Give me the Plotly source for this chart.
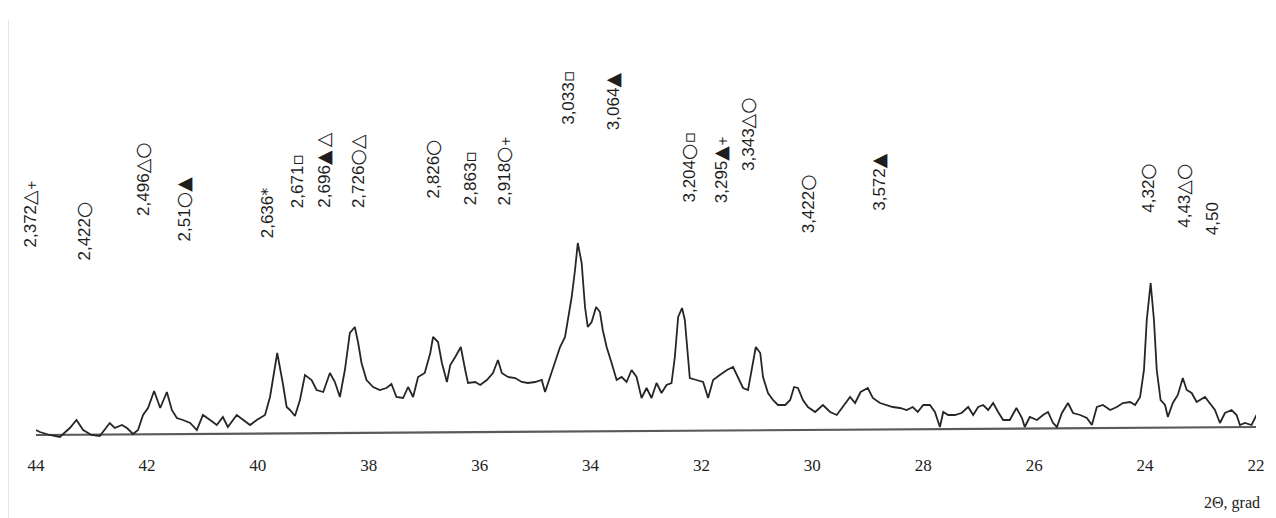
import plotly.graph_objects as go

# ---- diffraction pattern (2θ, deg ; intensity, arbitrary units)
two_theta = [44.00, 43.93, 43.75, 43.57, 43.39, 43.27, 43.15, 43.00, 42.85, 42.67, 42.58, 42.45, 42.36,
             42.25, 42.16, 42.07, 41.98, 41.87, 41.76, 41.64, 41.55, 41.46, 41.35, 41.22, 41.10,
             40.99, 40.86, 40.74, 40.63, 40.54, 40.38, 40.27, 40.14, 40.02, 39.87, 39.78, 39.65,
             39.55, 39.48, 39.42, 39.33, 39.24, 39.15, 39.03, 38.94, 38.82, 38.70, 38.61, 38.52,
             38.43, 38.34, 38.25, 38.19, 38.13, 38.04, 37.92, 37.80, 37.68, 37.59, 37.50, 37.38,
             37.29, 37.20, 37.11, 36.99, 36.89, 36.84, 36.75, 36.68, 36.59, 36.53, 36.44, 36.34,
             36.26, 36.21, 36.08, 35.99, 35.87, 35.76, 35.67, 35.60, 35.49, 35.36, 35.24, 35.13,
             35.00, 34.88, 34.82, 34.73, 34.64, 34.55, 34.46, 34.41, 34.34, 34.28, 34.23, 34.16,
             34.10, 34.05, 33.98, 33.90, 33.83, 33.78, 33.71, 33.62, 33.53, 33.44, 33.35, 33.26,
             33.17, 33.08, 32.99, 32.90, 32.81, 32.72, 32.63, 32.54, 32.48, 32.42, 32.35, 32.30,
             32.26, 32.21, 32.09, 31.97, 31.88, 31.79, 31.67, 31.54, 31.43, 31.34, 31.25, 31.16,
             31.09, 31.02, 30.94, 30.89, 30.80, 30.71, 30.62, 30.49, 30.40, 30.33, 30.26, 30.17,
             30.08, 29.95, 29.81, 29.68, 29.56, 29.45, 29.32, 29.23, 29.13, 29.00, 28.91, 28.78,
             28.66, 28.55, 28.42, 28.30, 28.19, 28.10, 28.00, 27.88, 27.79, 27.70, 27.64, 27.55,
             27.43, 27.31, 27.19, 27.10, 27.01, 26.92, 26.83, 26.74, 26.65, 26.56, 26.44, 26.32,
             26.22, 26.17, 26.08, 25.95, 25.84, 25.75, 25.66, 25.59, 25.50, 25.39, 25.30, 25.17,
             25.05, 24.96, 24.87, 24.76, 24.63, 24.51, 24.40, 24.27, 24.18, 24.09, 24.02, 23.97,
             23.90, 23.84, 23.79, 23.72, 23.64, 23.59, 23.50, 23.41, 23.32, 23.25, 23.16, 23.07,
             22.92, 22.83, 22.74, 22.65, 22.56, 22.44, 22.35, 22.29, 22.20, 22.08, 21.99]

intensity = [5, 3, 0, -2, 7, 15, 5, 0, -1, 12, 7, 10, 7,
             1, 5, 20, 27, 44, 27, 43, 25, 17, 15, 12, 5,
             20, 15, 10, 18, 8, 20, 15, 10, 15, 20, 38, 82,
             52, 28, 25, 19, 35, 60, 55, 45, 43, 62, 53, 38,
             65, 102, 108, 92, 72, 55, 48, 45, 47, 51, 38, 37,
             48, 38, 58, 62, 82, 98, 93, 72, 53, 70, 78, 88,
             65, 52, 53, 50, 55, 62, 75, 62, 58, 57, 53, 52,
             53, 55, 43, 58, 75, 88, 98, 115, 138, 165, 192, 172,
             128, 108, 113, 128, 123, 105, 88, 72, 55, 58, 53, 65,
             58, 37, 47, 37, 52, 42, 50, 52, 78, 118, 127, 115,
             85, 57, 55, 53, 37, 55, 60, 65, 68, 58, 47, 45,
             65, 88, 82, 58, 42, 35, 30, 30, 35, 48, 47, 35,
             28, 23, 30, 23, 20, 28, 38, 32, 43, 47, 37, 32,
             30, 28, 27, 25, 28, 23, 30, 30, 23, 8, 23, 20,
             20, 22, 28, 20, 28, 30, 25, 32, 23, 15, 15, 27,
             17, 8, 18, 15, 20, 23, 12, 8, 22, 32, 22, 20,
             17, 10, 28, 30, 25, 28, 32, 33, 30, 38, 65, 115,
             152, 115, 65, 35, 30, 18, 32, 40, 57, 45, 42, 33,
             38, 32, 25, 12, 22, 25, 20, 10, 12, 10, 20]

# baseline of the recorder chart (slightly tilted in the scan)
base_theta = [44.0, 22.0]
base_level = [0, 8]

# ---- peak labels: d-spacing (Å) with phase symbols
label_d = ["2,372", "2,422", "2,496", "2,51", "2,636", "2,671", "2,696",
           "2,726", "2,826", "2,863", "2,918", "3,033", "3,064", "3,204",
           "3,295", "3,343", "3,422", "3,572", "4,32", "4,43", "4,50"]
label_sym = ["△+", "○", "△○", "○▲", "*", "▫", "▲ △",
             "○△", "○", "▫", "○+", "▫", "▲", "○▫",
             "▲+", "△○", "○", "▲", "○", "△○", ""]
label_theta = [44.00, 43.17, 42.09, 41.35, 39.82, 39.29, 38.84, 38.21, 36.86, 36.17, 35.58,
               34.41, 33.61, 32.26, 31.67, 31.18, 30.10, 28.82, 23.97, 23.32, 22.78]
label_level = [185, 172, 217, 192, 195, 225, 225, 225, 235, 228, 228,
               308, 303, 230, 230, 262, 200, 222, 220, 205, 198]

tick_vals = [44, 42, 40, 38, 36, 34, 32, 30, 28, 26, 24, 22]
x_title = "2Θ, grad"

sym_size = {"○": 19, "△": 19, "▲": 19, "▫": 17, "+": 12, "*": 16, " ": 10}


def fmt(d, sym):
    parts = [d]
    for ch in sym:
        parts.append("<span style='font-family:DejaVu Sans;font-size:%dpx'>%s</span>" % (sym_size[ch], ch))
    return "".join(parts)


fig = go.Figure()
fig.add_trace(go.Scatter(x=base_theta, y=base_level, mode="lines",
                         line=dict(color="#5a5a5a", width=2.2), hoverinfo="skip", showlegend=False))
fig.add_trace(go.Scatter(x=two_theta, y=intensity, mode="lines",
                         line=dict(color="#262626", width=1.8), showlegend=False))

for i, (d, s, th, lv) in enumerate(zip(label_d, label_sym, label_theta, label_level)):
    fig.add_annotation(x=th, y=lv, xref="x", yref="y", text=fmt(d, s), textangle=-90,
                       showarrow=False, xanchor="center", yanchor="bottom",
                       xshift=-8 if i == 0 else 0,
                       font=dict(family="Liberation Sans, DejaVu Sans", size=17, color="#1e1e1e"))

fig.add_annotation(x=1, y=-0.146, xref="paper", yref="paper", text=x_title, showarrow=False,
                   xanchor="right", yanchor="middle", xshift=6,
                   font=dict(family="Liberation Serif", size=16, color="#222"))

# faint scan edge on the left
fig.add_shape(type="line", xref="paper", yref="paper", x0=-0.023, x1=-0.023, y0=-0.18, y1=0.972,
              line=dict(color="#d8d8d8", width=1.5))

fig.update_layout(
    width=1268, height=510,
    margin=dict(l=28, r=20, t=0, b=78),
    paper_bgcolor="white", plot_bgcolor="white",
    xaxis=dict(range=[44, 22], tickvals=tick_vals, ticktext=[str(v) for v in tick_vals],
               showgrid=False, zeroline=False, showline=False, ticks="",
               ticklabelstandoff=13,
               tickfont=dict(family="Liberation Serif", size=17, color="#222")),
    yaxis=dict(range=[-5, 427], visible=False, showgrid=False, zeroline=False),
)

fig.write_html("out.html")
